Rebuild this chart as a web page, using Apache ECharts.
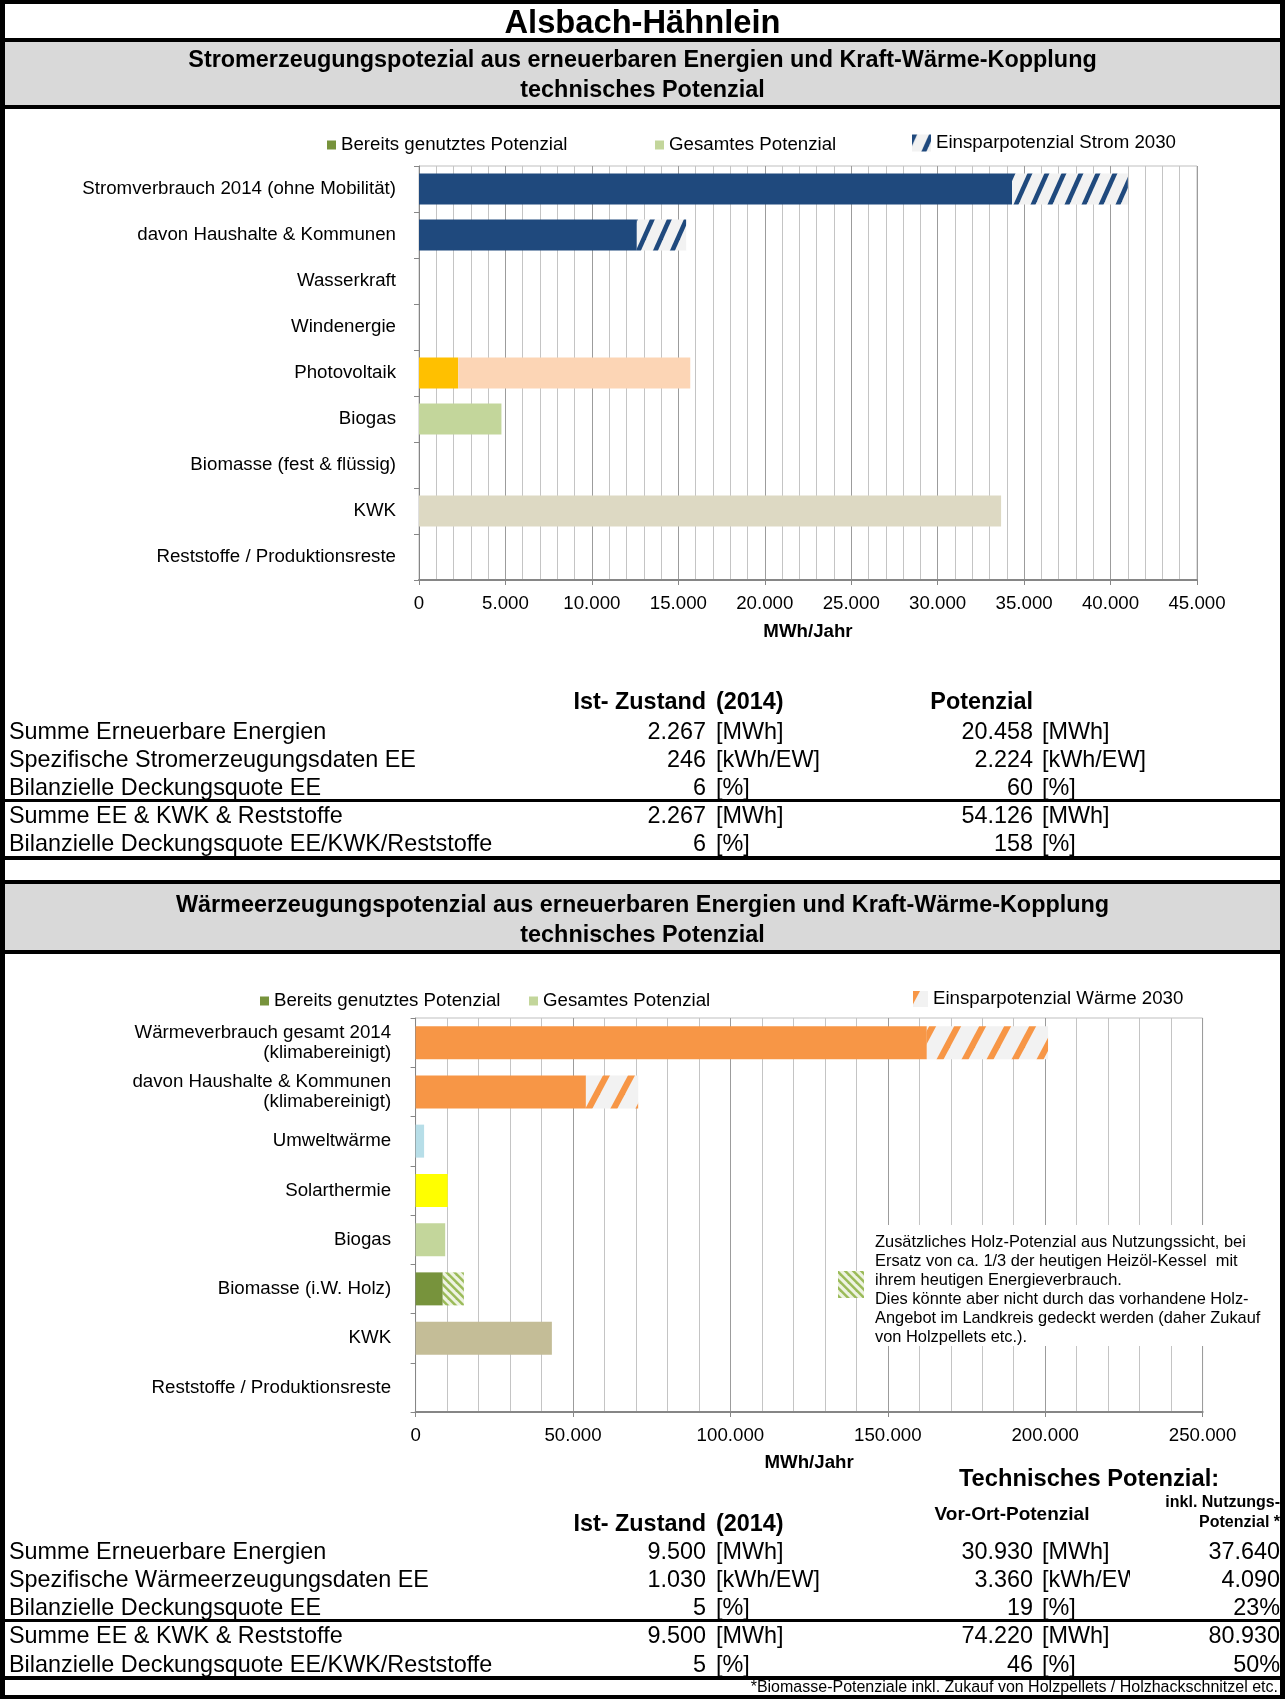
<!DOCTYPE html>
<html><head><meta charset="utf-8">
<script src="https://cdn.jsdelivr.net/npm/echarts@6/dist/echarts.min.js"></script>
<style>html,body{margin:0;padding:0;background:#fff}#c{width:1285px;height:1699px}</style>
</head><body><div id="c"></div>
<script>
// ---------- DATA ----------
const pageTitle = 'Alsbach-Hähnlein';
const stromHeader = ['Stromerzeugungspotezial aus erneuerbaren Energien und Kraft-Wärme-Kopplung', 'technisches Potenzial'];
const waermeHeader = ['Wärmeerzeugungspotenzial aus erneuerbaren Energien und Kraft-Wärme-Kopplung', 'technisches Potenzial'];

const stromCategories = ['Stromverbrauch 2014 (ohne Mobilität)', 'davon Haushalte & Kommunen', 'Wasserkraft', 'Windenergie', 'Photovoltaik', 'Biogas', 'Biomasse (fest & flüssig)', 'KWK', 'Reststoffe / Produktionsreste'];
const stromVerbrauch = [34300, 12600, 0, 0, 0, 0, 0, 0, 0];
const stromEinspar   = [6700, 2850, 0, 0, 0, 0, 0, 0, 0];
const stromGenutzt   = [0, 0, 0, 0, 2267, 0, 0, 0, 0];
const stromGesamt    = [0, 0, 0, 0, 15690, 4768, 0, 33668, 0];
const stromTicks = [0, 5000, 10000, 15000, 20000, 25000, 30000, 35000, 40000, 45000];

const waermeCategories = ['Wärmeverbrauch gesamt 2014\n(klimabereinigt)', 'davon Haushalte & Kommunen\n(klimabereinigt)', 'Umweltwärme', 'Solarthermie', 'Biogas', 'Biomasse (i.W. Holz)', 'KWK', 'Reststoffe / Produktionsreste'];
const waermeVerbrauch = [162400, 54100, 0, 0, 0, 0, 0, 0];
const waermeEinspar   = [38500, 16600, 0, 0, 0, 0, 0, 0];
const waermeGenutzt   = [0, 0, 0, 0, 0, 8630, 0, 0];
const waermeGesamt    = [0, 0, 2700, 10200, 9400, 8630, 43290, 0];
const waermeZusatzHolz = [0, 0, 0, 0, 0, 6710, 0, 0];
const waermeTicks = [0, 50000, 100000, 150000, 200000, 250000];

const holzNote = ['Zusätzliches Holz-Potenzial aus Nutzungssicht, bei', 'Ersatz von ca. 1/3 der heutigen Heizöl-Kessel  mit', 'ihrem heutigen Energieverbrauch.', 'Dies könnte aber nicht durch das vorhandene Holz-', 'Angebot im Landkreis gedeckt werden (daher Zukauf', 'von Holzpellets etc.).'];

const tabRowLabelsStrom = ['Summe Erneuerbare Energien', 'Spezifische Stromerzeugungsdaten EE', 'Bilanzielle Deckungsquote EE', 'Summe EE & KWK & Reststoffe', 'Bilanzielle Deckungsquote EE/KWK/Reststoffe'];
const tabIstStrom = ['2.267', '246', '6', '2.267', '6'];
const tabPotStrom = ['20.458', '2.224', '60', '54.126', '158'];
const tabUnits = ['[MWh]', '[kWh/EW]', '[%]', '[MWh]', '[%]'];

const tabRowLabelsWaerme = ['Summe Erneuerbare Energien', 'Spezifische Wärmeerzeugungsdaten EE', 'Bilanzielle Deckungsquote EE', 'Summe EE & KWK & Reststoffe', 'Bilanzielle Deckungsquote EE/KWK/Reststoffe'];
const tabIstWaerme = ['9.500', '1.030', '5', '9.500', '5'];
const tabVorOrtWaerme = ['30.930', '3.360', '19', '74.220', '46'];
const tabInklWaerme = ['37.640', '4.090', '23%', '80.930', '50%'];
const footnote = '*Biomasse-Potenziale inkl. Zukauf von Holzpellets / Holzhackschnitzel etc.';

// ---------- STYLE ----------
const FONT = "'Liberation Sans', Arial, Helvetica, sans-serif";
const FS = 18.7;
const stromGenutztColors = [null, null, null, null, '#FFC000', null, null, null, null];
const stromGesamtColors  = [null, null, null, null, '#FCD5B5', '#C3D69B', null, '#DDD9C3', null];
const waermeGesamtColors = [null, null, '#B7DEE8', '#FFFF00', '#C3D69B', '#C3D69B', '#C4BD97', null];

function hatch(fg, bg, period, H, w, mirror) {
  const c = document.createElement('canvas');
  c.width = period; c.height = H;
  const g = c.getContext('2d');
  g.fillStyle = bg; g.fillRect(0, 0, period, H);
  if (mirror) g.setTransform(-1, 0, 0, 1, period, 0);
  g.fillStyle = fg;
  for (let i = -3; i <= 2; i++) {
    const xb = i * period;
    g.beginPath();
    g.moveTo(xb, H); g.lineTo(xb + w, H); g.lineTo(xb + period + w, 0); g.lineTo(xb + period, 0);
    g.closePath(); g.fill();
  }
  return { image: c, repeat: 'repeat' };
}
const blueHatch = hatch('#1F497D', '#F2F2F2', 17, 38, 5, false);
const orangeHatch = hatch('#F79646', '#F2F2F2', 25, 47, 7, false);
const greenHatch = hatch('#9BBB59', '#EEF3E2', 8, 8, 3.5, true);

const de = v => String(v).replace(/\B(?=(\d{3})+(?!\d))/g, '.');
const colored = (vals, cols) => vals.map((v, i) => cols[i] ? { value: v, itemStyle: { color: cols[i] } } : v);

function valueAxis(gi, ticks, gap) {
  return {
    type: 'value', gridIndex: gi, min: ticks[0], max: ticks[ticks.length - 1], interval: ticks[1] - ticks[0],
    name: 'MWh/Jahr', nameLocation: 'middle', nameGap: gap,
    nameTextStyle: { fontFamily: FONT, fontSize: FS, fontWeight: 'bold', color: '#000' },
    axisLine: { show: true, lineStyle: { color: '#868686', width: 2 } },
    axisTick: { show: true, length: 5, lineStyle: { color: '#868686' } },
    axisLabel: { fontFamily: FONT, fontSize: FS, color: '#000', margin: 14, formatter: de },
    splitLine: { show: true, lineStyle: { color: '#9C9C9C', width: 1 } },
    minorTick: { show: false, splitNumber: 5 },
    minorSplitLine: { show: true, lineStyle: { color: '#C4C4C4', width: 1 } }
  };
}
function catAxis(gi, cats, margin) {
  return {
    type: 'category', gridIndex: gi, data: cats, inverse: true,
    axisLine: { show: true, lineStyle: { color: '#868686', width: 1 } },
    axisTick: { show: true, length: 5, lineStyle: { color: '#868686' } },
    axisLabel: { fontFamily: FONT, fontSize: FS, color: '#000', margin: margin, lineHeight: 19.5, padding: [4, 0, 0, 0] },
    splitLine: { show: false }
  };
}

// ---------- GRAPHIC (frame, headers, tables) ----------
const W = 1285, Hh = 1699;
const G = [];
const DY = 2;
function rect(x, y, w, h, fill, z) { G.push({ type: 'rect', z: z || 1, shape: { x, y, width: w, height: h }, style: { fill } }); }
function txt(x, y, s, size, bold, align, extra, z) {
  const st = Object.assign({ text: s, x, y: y + DY, fontSize: size, fontFamily: FONT, fontWeight: bold ? 'bold' : 'normal', fill: '#000',
    align: align || 'left', textAlign: align || 'left', verticalAlign: 'middle', textVerticalAlign: 'middle' }, extra || {});
  G.push({ type: 'text', z: z || 60, style: st });
}
// gray header boxes
rect(0, 42, W, 63, '#D9D9D9');
rect(0, 884, W, 66, '#D9D9D9');
// black frame + separators
rect(0, 0, 5, Hh, '#000'); rect(1280, 0, 5, Hh, '#000');
rect(0, 0, W, 4, '#000'); rect(0, 1695, W, 4, '#000');
[[38, 4], [105, 4], [799, 3], [856, 4], [880, 4], [950, 4], [1619, 3], [1676, 4]].forEach(a => rect(0, a[0], W, a[1], '#000', 70));

txt(642.5, 22, pageTitle, 32.7, true, 'center');
txt(642.5, 58.5, stromHeader[0], 23.4, true, 'center');
txt(642.5, 89, stromHeader[1], 23.4, true, 'center');
txt(642.5, 904, waermeHeader[0], 23.4, true, 'center');
txt(642.5, 934, waermeHeader[1], 23.4, true, 'center');

const TF = 23.4;
// table 1
txt(706, 701, 'Ist- Zustand', TF, true, 'right');
txt(716, 701, '(2014)', TF, true, 'left');
txt(1033, 701, 'Potenzial', TF, true, 'right');
const rowY1 = [730.3, 758.5, 786.6, 814.8, 843];
tabRowLabelsStrom.forEach((l, i) => {
  txt(9, rowY1[i], l, TF, false, 'left');
  txt(706, rowY1[i], tabIstStrom[i], TF, false, 'right');
  txt(716, rowY1[i], tabUnits[i], TF, false, 'left');
  txt(1033, rowY1[i], tabPotStrom[i], TF, false, 'right');
  txt(1042, rowY1[i], tabUnits[i], TF, false, 'left');
});
// table 2
txt(1089, 1477, 'Technisches Potenzial:', 23.7, true, 'center');
txt(1012, 1512.6, 'Vor-Ort-Potenzial', 19, true, 'center');
txt(1280, 1500.6, 'inkl. Nutzungs-', 16, true, 'right');
txt(1280, 1521, 'Potenzial *', 16, true, 'right');
txt(706, 1522.3, 'Ist- Zustand', TF, true, 'right');
txt(716, 1522.3, '(2014)', TF, true, 'left');
const rowY2 = [1550.5, 1578.7, 1606.8, 1635, 1663.2];
tabRowLabelsWaerme.forEach((l, i) => {
  txt(9, rowY2[i], l, TF, false, 'left');
  txt(706, rowY2[i], tabIstWaerme[i], TF, false, 'right');
  txt(716, rowY2[i], tabUnits[i], TF, false, 'left');
  txt(1033, rowY2[i], tabVorOrtWaerme[i], TF, false, 'right');
  txt(1042, rowY2[i], tabUnits[i], TF, false, 'left');
  // the unit cell of this column is narrow in the original: long units are cut at the cell edge
  if (tabUnits[i].length > 6) rect(1130, rowY2[i] + DY - 11, 82, 23, '#fff', 61);
  txt(1280, rowY2[i], tabInklWaerme[i], TF, false, 'right', null, 62);
});
txt(1278, 1686, footnote, 16, false, 'right');

// note box in heat chart
rect(857, 1225, 408, 121, '#fff', 50);
G.push({ type: 'rect', z: 55, shape: { x: 838, y: 1271, width: 26, height: 27 }, style: { fill: greenHatch } });
G.push({ type: 'text', z: 60, style: { text: holzNote.join('\n'), x: 875, y: 1233, fontSize: 16.4, lineHeight: 19, fontFamily: FONT, fill: '#000',
  align: 'left', textAlign: 'left', verticalAlign: 'top', textVerticalAlign: 'top' } });

// ---------- CHART ----------
const legendText = { fontFamily: FONT, fontSize: FS, color: '#000', lineHeight: 20 };
function leg(name, left, top, iw, ih) {
  return { data: [name], left, top, padding: 0, itemWidth: iw, itemHeight: ih, icon: 'rect', selectedMode: false, textStyle: legendText };
}

const stromRest = stromGesamt.map((v, i) => v - stromGenutzt[i]);
const waermeRest = waermeGesamt.map((v, i) => v - waermeGenutzt[i]);

const option = {
  animation: false,
  backgroundColor: '#fff',
  graphic: { elements: G },
  legend: [
    leg('Bereits genutztes Potenzial', 327, 135, 9, 9),
    leg('Gesamtes Potenzial', 655, 135, 9, 9),
    leg('Einsparpotenzial Strom 2030', 912, 133, 19, 17),
    leg('Bereits genutztes Potenzial', 260, 991, 9, 9),
    leg('Gesamtes Potenzial', 529, 991, 9, 9),
    leg('Einsparpotenzial Wärme 2030', 913, 989, 15, 16)
  ],
  grid: [
    { left: 419, width: 778, top: 166, height: 414, show: true, borderColor: '#BFBFBF', borderWidth: 1, backgroundColor: 'transparent' },
    { left: 415.6, width: 787, top: 1018, height: 394, show: true, borderColor: '#BFBFBF', borderWidth: 1, backgroundColor: 'transparent' }
  ],
  xAxis: [valueAxis(0, stromTicks, 42), valueAxis(1, waermeTicks, 41)],
  yAxis: [catAxis(0, stromCategories, 23), catAxis(1, waermeCategories, 24.5)],
  series: [
    { name: 'Stromverbrauch', type: 'bar', stack: 's', xAxisIndex: 0, yAxisIndex: 0, barWidth: 31, itemStyle: { color: '#1F497D' }, data: stromVerbrauch },
    { name: 'Bereits genutztes Potenzial', type: 'bar', stack: 's', xAxisIndex: 0, yAxisIndex: 0, barWidth: 31, itemStyle: { color: '#77933C' }, data: colored(stromGenutzt, stromGenutztColors) },
    { name: 'Gesamtes Potenzial', type: 'bar', stack: 's', xAxisIndex: 0, yAxisIndex: 0, barWidth: 31, itemStyle: { color: '#C3D69B' }, data: colored(stromRest, stromGesamtColors) },
    { name: 'Einsparpotenzial Strom 2030', type: 'bar', stack: 's', xAxisIndex: 0, yAxisIndex: 0, barWidth: 31, itemStyle: { color: blueHatch }, data: stromEinspar },

    { name: 'Wärmeverbrauch', type: 'bar', stack: 'w', xAxisIndex: 1, yAxisIndex: 1, barWidth: 33, itemStyle: { color: '#F79646' }, data: waermeVerbrauch },
    { name: 'Bereits genutztes Potenzial', type: 'bar', stack: 'w', xAxisIndex: 1, yAxisIndex: 1, barWidth: 33, itemStyle: { color: '#77933C' }, data: waermeGenutzt },
    { name: 'Gesamtes Potenzial', type: 'bar', stack: 'w', xAxisIndex: 1, yAxisIndex: 1, barWidth: 33, itemStyle: { color: '#C3D69B' }, data: colored(waermeRest, waermeGesamtColors) },
    { name: 'Zusätzliches Holz-Potenzial', type: 'bar', stack: 'w', xAxisIndex: 1, yAxisIndex: 1, barWidth: 33, itemStyle: { color: greenHatch }, data: waermeZusatzHolz },
    { name: 'Einsparpotenzial Wärme 2030', type: 'bar', stack: 'w', xAxisIndex: 1, yAxisIndex: 1, barWidth: 33, itemStyle: { color: orangeHatch }, data: waermeEinspar }
  ]
};
const chart = echarts.init(document.getElementById('c'), null, { renderer: 'canvas', width: 1285, height: 1699 });
chart.setOption(option);
</script></body></html>
